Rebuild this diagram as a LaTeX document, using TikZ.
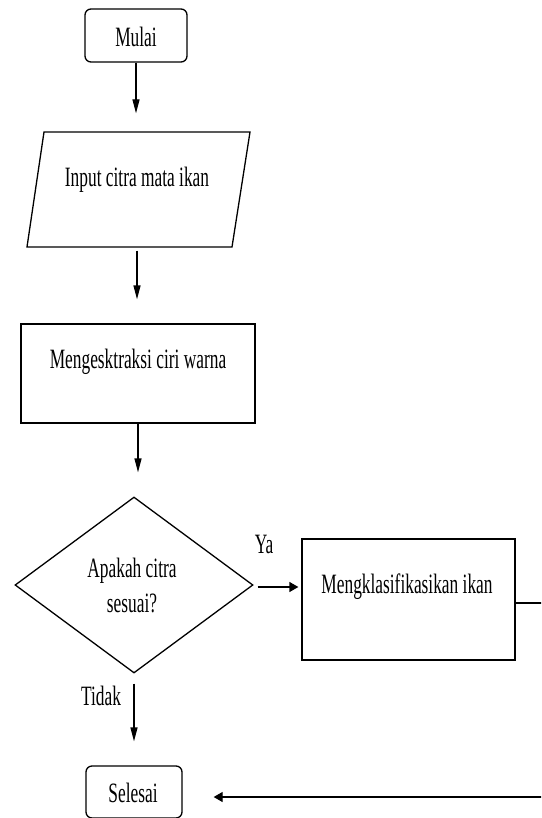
\documentclass[tikz,border=0pt]{standalone}
\usepackage{fontspec}
\setmainfont{Liberation Serif}[FakeStretch=0.62]
\usetikzlibrary{shapes.geometric,arrows.meta}
\begin{document}
\begin{tikzpicture}[x=1pt,y=-1pt, line width=1.3pt,
  txt/.style={font=\fontsize{28}{32}\selectfont, inner sep=0pt, anchor=base},
  term/.style={draw, rounded corners=6pt, inner sep=0pt},
  proc/.style={draw, inner sep=0pt},
  ghost/.style={inner sep=0pt},
  varr/.style={-{Triangle[length=14pt,width=7pt]}},
  harr/.style={-{Triangle[length=9pt,width=10pt]}}]
\useasboundingbox (0,0) rectangle (541,818);
\clip (0,0) rectangle (541,818);
% start
\node[term, minimum width=102pt, minimum height=53pt] (mulai) at (136,35.5) {};
\node[txt] (tmulai) at (136,47) {Mulai};
% input parallelogram
\node[ghost, minimum width=206pt, minimum height=115pt] (input) at (137,189.5) {};
\draw (44,132) -- (250,132) -- (232,247) -- (27,247) -- cycle;
\node[txt] (tinput) at (137,187) {Input citra mata ikan};
% extraction
\node[proc, minimum width=234pt, minimum height=99pt] (ekstr) at (138,373.5) {};
\node[txt] (tekstr) at (138,368) {Mengesktraksi ciri warna};
% decision
\node[draw, diamond, minimum width=238pt, minimum height=176pt, inner sep=0pt] (dec) at (134,585) {};
\node[txt] (tdec1) at (132,577) {Apakah citra};
\node[txt] (tdec2) at (132,612) {sesuai?};
% classify
\node[proc, minimum width=213pt, minimum height=121pt] (klas) at (408.5,599.5) {};
\node[txt] (tklas) at (407,593) {Mengklasifikasikan ikan};
% end
\node[term, minimum width=96pt, minimum height=52pt] (sel) at (134,792) {};
\node[txt] (tsel) at (133,802) {Selesai};
% labels
\node[txt] (ya) at (264,553) {Ya};
\node[txt] (tidak) at (101,705) {Tidak};
% connectors
\coordinate (rr) at (560,603);
\coordinate (rb) at (560,797);
\draw[varr, shorten >=18pt] (mulai.south) -- (mulai.south |- input.north);
\draw[varr, shorten <=3pt, shorten >=24pt] (input.south) -- (input.south |- ekstr.north);
\draw[varr, shorten >=24pt] (ekstr.south) -- (ekstr.south |- dec.north);
\draw[harr, shorten <=4pt, shorten >=3pt] ([yshift=-2pt]dec.east) -- ([yshift=-2pt]klas.west |- dec.east);
\draw (klas.east |- rr) -- (rr);
\draw[varr, shorten <=10pt, shorten >=24pt] (dec.south) -- (dec.south |- sel.north);
\draw[harr, shorten >=31pt] (rb) -- (sel.east |- rb);
\end{tikzpicture}
\end{document}
